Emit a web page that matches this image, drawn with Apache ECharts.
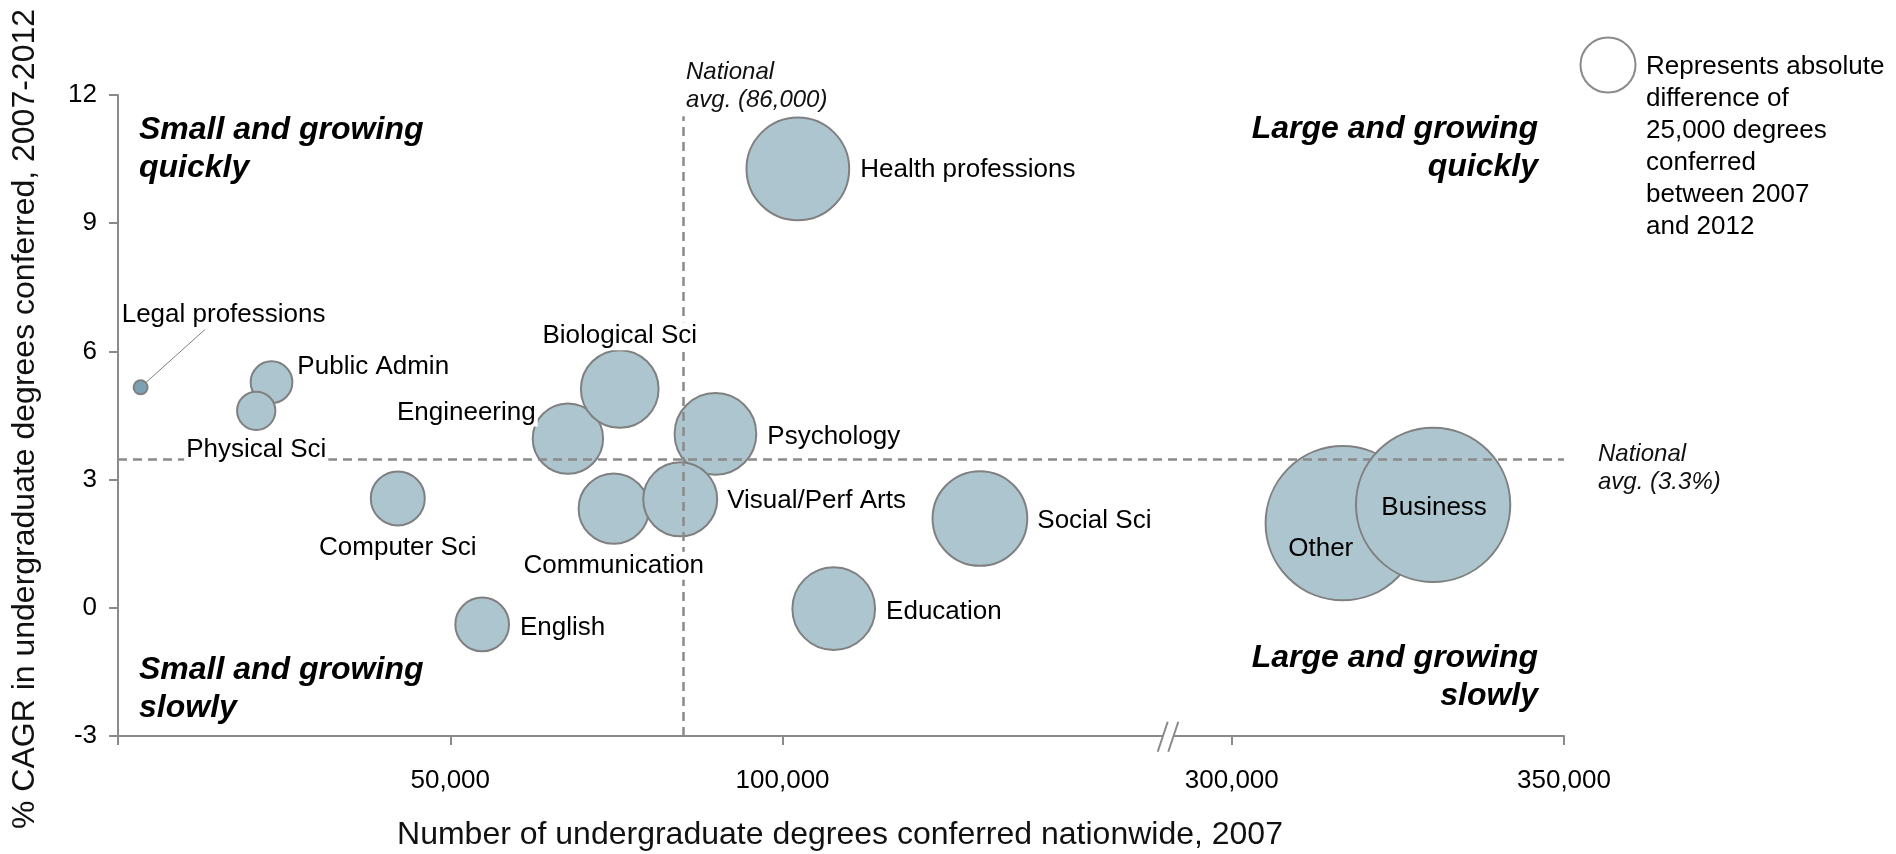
<!DOCTYPE html>
<html>
<head>
<meta charset="utf-8">
<title>Undergraduate degrees by field</title>
<script src="https://cdn.jsdelivr.net/npm/echarts@6.0.0/dist/echarts.min.js"></script>
<style>
  html, body { margin: 0; padding: 0; background: #fff; }
  #main { width: 1896px; height: 854px; }
</style>
</head>
<body>
<div id="main"></div>
<script>
// fields of study
const fields = ['Legal professions', 'Public Admin', 'Physical Sci', 'Computer Sci', 'English',
  'Engineering', 'Biological Sci', 'Psychology', 'Communication', 'Visual/Perf Arts',
  'Health professions', 'Education', 'Social Sci', 'Other', 'Business'];
// undergraduate degrees conferred nationwide, 2007
const degrees2007 = [3400, 23100, 20800, 42100, 54800, 67700, 75500, 89900, 74600, 84600,
  102300, 107700, 129700, 316700, 330300];
// % CAGR in degrees conferred, 2007-2012
const cagr = [5.16, 5.28, 4.61, 2.56, -0.39, 3.96, 5.12, 4.07, 2.32, 2.54,
  10.27, -0.02, 2.09, 1.98, 2.41];
// bubble area, thousands of degrees
const bubbleSize = [3.1, 27.4, 23.1, 45.9, 45.4, 78.0, 95.0, 105.1, 77.8, 86.2,
  166.0, 107.7, 141.2, 374.8, 374.8];

const xTicksLeft = [0, 50000, 100000];
const xLabelsLeft = [50000, 100000];
const xTicksRight = [300000, 350000];
const yMin = -3, yMax = 12, yStep = 3;

// reference lines, as drawn
const avgDegrees = 85000;
const avgDegreesTop = 11.5;
const avgCagr = 3.48;
// the x axis is cut between these two values
const breakStart = 158000, breakEnd = 290400, xMax = 350000;
const legendValue = 47.6;
// end of the leader line of "Legal professions"
const legalLeaderEnd = [13150, 6.52];

const FONT = '"Liberation Sans", Arial, Helvetica, sans-serif';
const GREY = '#8a8a8a';

function sizeOf(v) {
  return 7.97 * Math.sqrt(v);
}

// label placement for every bubble
const labelPlace = {
  'Legal professions': { position: 'inside', offset: [83, -72], bg: true },
  'Public Admin': { position: 'right', distance: 3, offset: [0, -15], bg: true },
  'Physical Sci': { position: 'bottom', distance: 6, bg: true },
  'Computer Sci': { position: 'bottom', distance: 8, bg: true },
  'English': { position: 'right', distance: 9, offset: [0, 3], bg: true },
  'Engineering': { position: 'left', distance: -5, offset: [0, -26], bg: true },
  'Biological Sci': { position: 'top', distance: 0, bg: true },
  'Psychology': { position: 'right', distance: 9, offset: [0, 3], bg: true },
  'Communication': { position: 'bottom', distance: 8, bg: true },
  'Visual/Perf Arts': { position: 'right', distance: 8, offset: [0, 2], bg: true },
  'Health professions': { position: 'right', distance: 9, offset: [0, 1], bg: true },
  'Education': { position: 'right', distance: 9, offset: [0, 3], bg: true },
  'Social Sci': { position: 'right', distance: 8, offset: [0, 2], bg: true },
  'Other': { position: 'inside', offset: [-22, 26] },
  'Business': { position: 'inside', offset: [1, 3] }
};

let leftData = [], rightData = [], leftLabels = [], rightLabels = [];
fields.forEach(function (name, i) {
  const p = labelPlace[name];
  const bubble = { name: name, value: [degrees2007[i], cagr[i], bubbleSize[i]] };
  if (i === 0) bubble.itemStyle = { color: '#7ba2b3' };
  const lab = {
    name: name,
    value: [degrees2007[i], cagr[i], bubbleSize[i]],
    label: {
      show: true,
      formatter: '{b}',
      color: '#000',
      opacity: 1,
      fontSize: 26,
      fontFamily: FONT,
      position: p.position,
      distance: p.distance || 0,
      offset: p.offset || [0, 0],
      backgroundColor: p.bg ? '#fff' : 'transparent',
      padding: p.bg ? [1, 2] : 0
    }
  };
  if (degrees2007[i] > breakStart) {
    rightData.push(bubble);
    rightLabels.push(lab);
  } else {
    leftData.push(bubble);
    leftLabels.push(lab);
  }
});

const bubbleStyle = { color: '#acc5ce', borderColor: '#808080', borderWidth: 2, opacity: 1 };
const avgLineStyle = { color: GREY, type: [9, 6], width: 2.5 };
const labelText = { color: '#000', fontSize: 26, fontFamily: FONT, formatter: '{b}' };

let myChart = echarts.init(document.getElementById('main'));

let option = {
  animation: false,
  textStyle: { fontFamily: FONT },
  grid: [
    { left: 118, top: 95, width: 1050, height: 641 },
    { left: 1168, top: 95, width: 396, height: 641 }
  ],
  xAxis: [
    {
      type: 'value', gridIndex: 0, min: 0, max: breakStart,
      splitLine: { show: false },
      axisLine: { onZero: false, lineStyle: { color: GREY, width: 2 } },
      axisTick: { length: 9, customValues: xTicksLeft, lineStyle: { color: GREY, width: 2 } },
      axisLabel: {
        customValues: xLabelsLeft, margin: 32, fontSize: 26, color: '#000',
        formatter: function (v) { return v.toLocaleString('en-US'); }
      }
    },
    {
      type: 'value', gridIndex: 1, min: breakEnd, max: xMax,
      splitLine: { show: false },
      axisLine: { onZero: false, lineStyle: { color: GREY, width: 2 } },
      axisTick: { length: 9, customValues: xTicksRight, lineStyle: { color: GREY, width: 2 } },
      axisLabel: {
        customValues: xTicksRight, margin: 32, fontSize: 26, color: '#000',
        formatter: function (v) { return v.toLocaleString('en-US'); }
      }
    }
  ],
  yAxis: [
    {
      type: 'value', gridIndex: 0, min: yMin, max: yMax, interval: yStep,
      splitLine: { show: false },
      axisLine: { onZero: false, lineStyle: { color: GREY, width: 2 } },
      axisTick: { length: 9, lineStyle: { color: GREY, width: 2 } },
      axisLabel: { margin: 21, fontSize: 26, color: '#000' }
    },
    { type: 'value', gridIndex: 1, min: yMin, max: yMax, interval: yStep, show: false }
  ],
  series: [
    {
      type: 'scatter', xAxisIndex: 0, yAxisIndex: 0, z: 2, silent: true,
      data: leftData,
      symbolSize: function (v) { return sizeOf(v[2]); },
      itemStyle: bubbleStyle,
      markLine: {
        silent: true, symbol: 'none', z: 5,
        label: { show: false },
        lineStyle: avgLineStyle,
        data: [
          { yAxis: avgCagr },
          [{ coord: [avgDegrees, yMin] }, { coord: [avgDegrees, avgDegreesTop] }]
        ]
      }
    },
    {
      type: 'scatter', xAxisIndex: 1, yAxisIndex: 1, z: 2, silent: true,
      data: rightData,
      symbolSize: function (v) { return sizeOf(v[2]); },
      itemStyle: bubbleStyle,
      markLine: {
        silent: true, symbol: 'none', z: 5,
        label: { show: false },
        lineStyle: avgLineStyle,
        data: [{ yAxis: avgCagr }]
      }
    },
    {
      // labels only, drawn above the dashed lines
      type: 'scatter', xAxisIndex: 0, yAxisIndex: 0, z: 10, silent: true,
      data: leftLabels,
      symbolSize: function (v) { return sizeOf(v[2]); },
      itemStyle: { color: 'transparent', borderWidth: 0, opacity: 1 },
      label: labelText,
      markLine: {
        silent: true, symbol: 'none', z: 1,
        label: { show: false },
        lineStyle: { color: '#808080', type: 'solid', width: 1 },
        data: [[{ coord: [degrees2007[0], cagr[0]] }, { coord: legalLeaderEnd }]]
      }
    },
    {
      type: 'scatter', xAxisIndex: 1, yAxisIndex: 1, z: 10, silent: true,
      data: rightLabels,
      symbolSize: function (v) { return sizeOf(v[2]); },
      itemStyle: { color: 'transparent', borderWidth: 0, opacity: 1 },
      label: labelText
    }
  ],
  graphic: [
    // axis titles
    {
      type: 'text', x: 840, y: 835, z: 20,
      style: {
        text: 'Number of undergraduate degrees conferred nationwide, 2007',
        font: '32px ' + FONT, fill: '#111', align: 'center', verticalAlign: 'middle'
      }
    },
    {
      type: 'text', x: 25, y: 419, rotation: Math.PI / 2, z: 20,
      style: {
        text: '% CAGR in undergraduate degrees conferred, 2007-2012',
        font: '32px ' + FONT, fill: '#111', align: 'center', verticalAlign: 'middle'
      }
    },
    // quadrant notes
    {
      type: 'text', x: 139, y: 111, z: 20,
      style: { text: 'Small and growing\nquickly', font: 'italic bold 32px ' + FONT,
        fill: '#000', lineHeight: 38, align: 'left', verticalAlign: 'top' }
    },
    {
      type: 'text', x: 139, y: 651, z: 20,
      style: { text: 'Small and growing\nslowly', font: 'italic bold 32px ' + FONT,
        fill: '#000', lineHeight: 38, align: 'left', verticalAlign: 'top' }
    },
    {
      type: 'text', x: 1538, y: 110, z: 20,
      style: { text: 'Large and growing\nquickly', font: 'italic bold 32px ' + FONT,
        fill: '#000', lineHeight: 38, align: 'right', verticalAlign: 'top' }
    },
    {
      type: 'text', x: 1538, y: 639, z: 20,
      style: { text: 'Large and growing\nslowly', font: 'italic bold 32px ' + FONT,
        fill: '#000', lineHeight: 38, align: 'right', verticalAlign: 'top' }
    },
    // national average notes
    {
      type: 'text', x: 686, y: 58, z: 20,
      style: { text: 'National\navg. (86,000)', font: 'italic 24px ' + FONT,
        fill: '#111', lineHeight: 28, align: 'left', verticalAlign: 'top' }
    },
    {
      type: 'text', x: 1598, y: 440, z: 20,
      style: { text: 'National\navg. (3.3%)', font: 'italic 24px ' + FONT,
        fill: '#111', lineHeight: 28, align: 'left', verticalAlign: 'top' }
    },
    // size legend
    {
      type: 'circle', z: 20,
      shape: { cx: 1608, cy: 65, r: sizeOf(legendValue) / 2 },
      style: { fill: '#fff', stroke: GREY, lineWidth: 2 }
    },
    {
      type: 'text', x: 1646, y: 51, z: 20,
      style: {
        text: 'Represents absolute\ndifference of\n25,000 degrees\nconferred\nbetween 2007\nand 2012',
        font: '26px ' + FONT, fill: '#000', lineHeight: 32, align: 'left', verticalAlign: 'top'
      }
    },
    // axis break marks
    {
      type: 'rect', z: 20,
      shape: { x: 1163, y: 732, width: 10.5, height: 8 },
      style: { fill: '#fff' }
    },
    {
      type: 'line', z: 21,
      shape: { x1: 1157.7, y1: 751.7, x2: 1167.7, y2: 721.7 },
      style: { stroke: GREY, lineWidth: 2 }
    },
    {
      type: 'line', z: 21,
      shape: { x1: 1168.3, y1: 751.7, x2: 1178.3, y2: 721.7 },
      style: { stroke: GREY, lineWidth: 2 }
    }
  ]
};

myChart.setOption(option);
</script>
</body>
</html>
